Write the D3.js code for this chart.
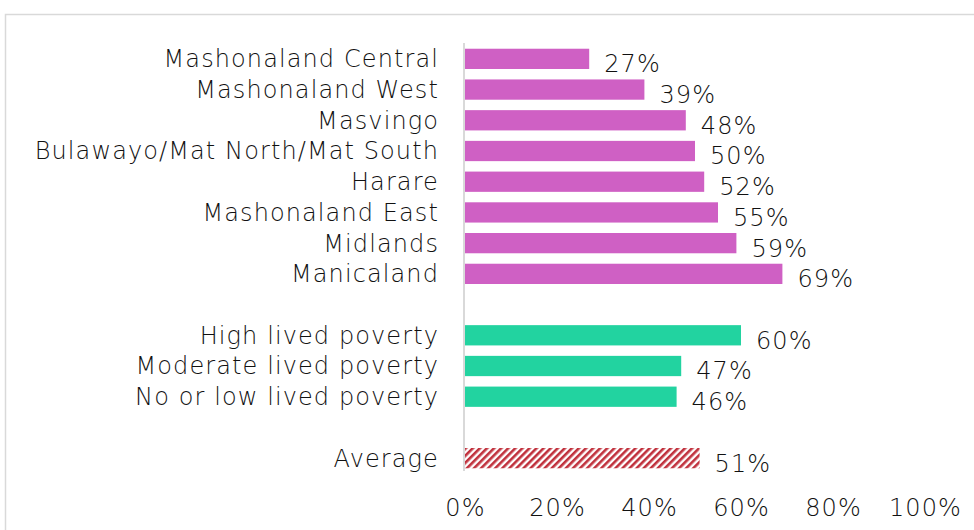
<!DOCTYPE html>
<html>
<head>
<meta charset="utf-8">
<script src="https://cdn.jsdelivr.net/npm/d3@7"></script>
<style>
  body { margin: 0; background: #fff; }
  text { font-family: "DejaVu Sans", sans-serif; font-weight: 200; fill: #111; letter-spacing: 1.1px; }
</style>
</head>
<body>
<div id="vis"></div>
<script>
const width = 974;
const height = 530;

// data
const regions = ['Mashonaland Central', 'Mashonaland West', 'Masvingo', 'Bulawayo/Mat North/Mat South',
  'Harare', 'Mashonaland East', 'Midlands', 'Manicaland'];
const regionValues = [27, 39, 48, 50, 52, 55, 59, 69];
const poverty = ['High lived poverty', 'Moderate lived poverty', 'No or low lived poverty'];
const povertyValues = [60, 47, 46];
const averageLabel = ['Average'];
const averageValues = [51];
const xTicks = [0, 20, 40, 60, 80, 100];

// one slot per row, blank slots for the gaps between groups
const rows = [];
regions.forEach((c, i) => rows.push({key: c, value: regionValues[i], group: 'region'}));
rows.push({key: 'gap1', value: null});
poverty.forEach((c, i) => rows.push({key: c, value: povertyValues[i], group: 'poverty'}));
rows.push({key: 'gap2', value: null});
averageLabel.forEach((c, i) => rows.push({key: c, value: averageValues[i], group: 'average'}));

const color = {region: '#cf60c4', poverty: '#22d3a0'};

const svg = d3.select('#vis')
  .append('svg')
  .attr('width', width)
  .attr('height', height);

// chart frame
svg.append('rect')
  .attr('x', 5.5).attr('y', 14.5)
  .attr('width', 990).attr('height', 540)
  .style('fill', 'none')
  .style('stroke', '#d9d9d9')
  .style('stroke-width', 1.5);

const defs = svg.append('defs');
const pat = defs.append('pattern')
  .attr('id', 'hatch')
  .attr('patternUnits', 'userSpaceOnUse')
  .attr('width', 5).attr('height', 5)
  .attr('patternTransform', 'rotate(45)');
pat.append('rect').attr('width', 5).attr('height', 5).style('fill', '#fff');
pat.append('rect').attr('width', 2.6).attr('height', 5).style('fill', '#c0303c');

const x = d3.scaleLinear().domain([0, 100]).range([465, 925]);
const y = d3.scaleBand()
  .domain(rows.map(d => d.key))
  .range([43.5, 473.5])
  .paddingInner(0.34)
  .paddingOuter(0.17);

const data = rows.filter(d => d.value !== null);

// bars
svg.selectAll('rect.bar')
  .data(data)
  .join('rect')
  .attr('class', 'bar')
  .attr('x', x(0))
  .attr('y', d => y(d.key))
  .attr('width', d => x(d.value) - x(0))
  .attr('height', y.bandwidth())
  .style('fill', d => d.group === 'average' ? 'url(#hatch)' : color[d.group]);

// vertical axis line
svg.append('line')
  .attr('x1', x(0) - 1).attr('x2', x(0) - 1)
  .attr('y1', 43).attr('y2', 471)
  .style('stroke', '#d9d9d9')
  .style('stroke-width', 2);

// category labels
svg.selectAll('text.cat')
  .data(data)
  .join('text')
  .attr('class', 'cat')
  .attr('x', 439)
  .attr('y', d => y(d.key) + y.bandwidth() / 2)
  .attr('dy', '0.35em')
  .attr('text-anchor', 'end')
  .style('font-size', '24px')
  .text(d => d.key);

// value labels
svg.selectAll('text.val')
  .data(data)
  .join('text')
  .attr('class', 'val')
  .attr('x', d => x(d.value) + 15)
  .attr('y', d => y(d.key) + y.bandwidth() / 2 + 5)
  .attr('dy', '0.35em')
  .style('font-size', '24px')
  .text(d => d.value + '%');

// x axis
const xAxis = d3.axisBottom(x)
  .tickValues(xTicks)
  .tickFormat(d => d + '%')
  .tickSize(0)
  .tickPadding(0);
const gx = svg.append('g')
  .attr('transform', 'translate(0,508)')
  .call(xAxis);
gx.select('.domain').remove();
gx.selectAll('text')
  .attr('dy', '0.35em')
  .style('font-size', '24px')
  .style('font-family', '"DejaVu Sans", sans-serif')
  .style('font-weight', 200)
  .style('fill', '#111');
</script>
</body>
</html>
